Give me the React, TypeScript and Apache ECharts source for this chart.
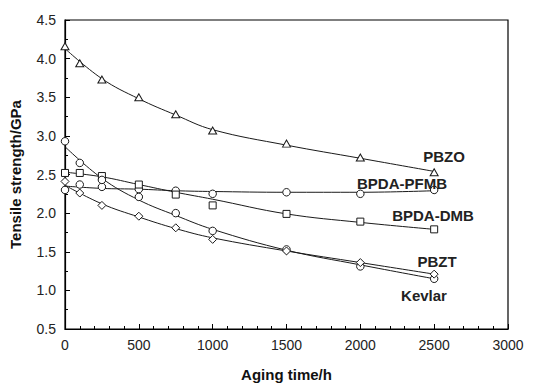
import React, { useEffect, useRef } from "react";
import * as echarts from "echarts";

const pointX = [0, 100, 250, 500, 750, 1000, 1500, 2000, 2500];
const pbzo = [4.16, 3.94, 3.73, 3.5, 3.28, 3.07, 2.9, 2.72, 2.53];
const pfmb = [2.3, 2.37, 2.34, 2.31, 2.29, 2.25, 2.27, 2.25, 2.3];
const dmb = [2.52, 2.52, 2.48, 2.37, 2.24, 2.1, 1.99, 1.89, 1.79];
const pbzt = [2.93, 2.65, 2.43, 2.21, 2.0, 1.77, 1.53, 1.31, 1.15];
const kevlar = [2.41, 2.26, 2.1, 1.96, 1.81, 1.66, 1.51, 1.36, 1.21];

const fitX = [0, 250, 500, 750, 1000, 1500, 2000, 2500];
const pbzoFit = [4.13, 3.74, 3.48, 3.27, 3.08, 2.88, 2.71, 2.54];
const pfmbFit = [2.35, 2.32, 2.31, 2.29, 2.28, 2.27, 2.27, 2.29];
const dmbFit = [2.53, 2.47, 2.37, 2.27, 2.18, 1.99, 1.88, 1.79];
const pbztFit = [2.86, 2.45, 2.17, 1.97, 1.79, 1.52, 1.33, 1.15];
const kevlarFit = [2.36, 2.12, 1.95, 1.8, 1.68, 1.51, 1.36, 1.21];

const labels = [
  { text: "PBZO", x: 444, y: 156 },
  { text: "BPDA-PFMB", x: 402, y: 183 },
  { text: "BPDA-DMB", x: 433, y: 215 },
  { text: "PBZT", x: 437, y: 261 },
  { text: "Kevlar", x: 424, y: 295 },
];

const triangle = "path://M0,10 L5,0 L10,10 Z";
const diamond = "path://M5,0 L10,5 L5,10 L0,5 Z";

export default function App() {
  const ref = useRef<HTMLDivElement>(null);
  useEffect(() => {
    const chart = echarts.init(ref.current!, null, { renderer: "svg" });
    const ink = "#1a1a1a";
    const font = "Liberation Sans, Arial, sans-serif";
    const fit = (d: number[]) => ({
      type: "line",
      data: fitX.map((x, i) => [x, d[i]]),
      smooth: 0.4,
      showSymbol: false,
      symbol: "none",
      lineStyle: { color: ink, width: 1 },
      z: 2,
    });
    const pts = (d: number[], symbol: string, size: number | number[]) => ({
      type: "scatter",
      data: pointX.map((x, i) => [x, d[i]]),
      symbol,
      symbolSize: size,
      itemStyle: { color: "#fff", borderColor: ink, borderWidth: 1, opacity: 1 },
      z: 3,
    });
    chart.setOption({
      animation: false,
      backgroundColor: "#fff",
      textStyle: { fontFamily: font },
      grid: {
        left: 64,
        right: 38,
        top: 20,
        bottom: 52,
        show: true,
        borderColor: "#000",
        borderWidth: 1.2,
      },
      xAxis: {
        type: "value",
        min: 0,
        max: 3000,
        interval: 500,
        name: "Aging time/h",
        nameLocation: "middle",
        nameGap: 38,
        nameTextStyle: { fontWeight: "bold", fontSize: 15, color: "#111", fontFamily: font },
        axisLine: { lineStyle: { color: "#000", width: 1.2 } },
        axisTick: { inside: true, length: 5, lineStyle: { color: "#000" } },
        minorTick: { show: true, splitNumber: 5, length: 3, lineStyle: { color: "#000" } },
        splitLine: { show: false },
        axisLabel: { fontSize: 14, color: "#222", margin: 9, formatter: (v: number) => String(v) },
      },
      yAxis: {
        type: "value",
        min: 0.5,
        max: 4.5,
        interval: 0.5,
        name: "Tensile strength/GPa",
        nameLocation: "middle",
        nameGap: 42,
        nameTextStyle: { fontWeight: "bold", fontSize: 15, color: "#111", fontFamily: font },
        axisLine: { show: true, lineStyle: { color: "#000", width: 1.2 } },
        axisTick: { show: true, inside: true, length: 5, lineStyle: { color: "#000" } },
        minorTick: { show: true, splitNumber: 2, length: 3, lineStyle: { color: "#000" } },
        splitLine: { show: false },
        axisLabel: { fontSize: 14, color: "#222", margin: 9, formatter: (v: number) => v.toFixed(1) },
      },
      graphic: labels.map((l) => ({
        type: "text",
        x: l.x,
        y: l.y,
        style: {
          text: l.text,
          fontSize: 15,
          fontWeight: "bold",
          fontFamily: font,
          fill: "#222",
          align: "center",
          verticalAlign: "middle",
        },
        z: 10,
      })),
      series: [
        fit(pbzoFit),
        fit(pfmbFit),
        fit(dmbFit),
        fit(pbztFit),
        fit(kevlarFit),
        pts(pbzo, triangle, [8, 7]),
        pts(pfmb, "circle", 7.5),
        pts(dmb, "rect", 7),
        pts(pbzt, "circle", 7.5),
        pts(kevlar, diamond, 8),
      ],
    });
    return () => chart.dispose();
  }, []);
  return <div ref={ref} style={{ width: 546, height: 387, position: "absolute", left: 0, top: 0 }} />;
}
